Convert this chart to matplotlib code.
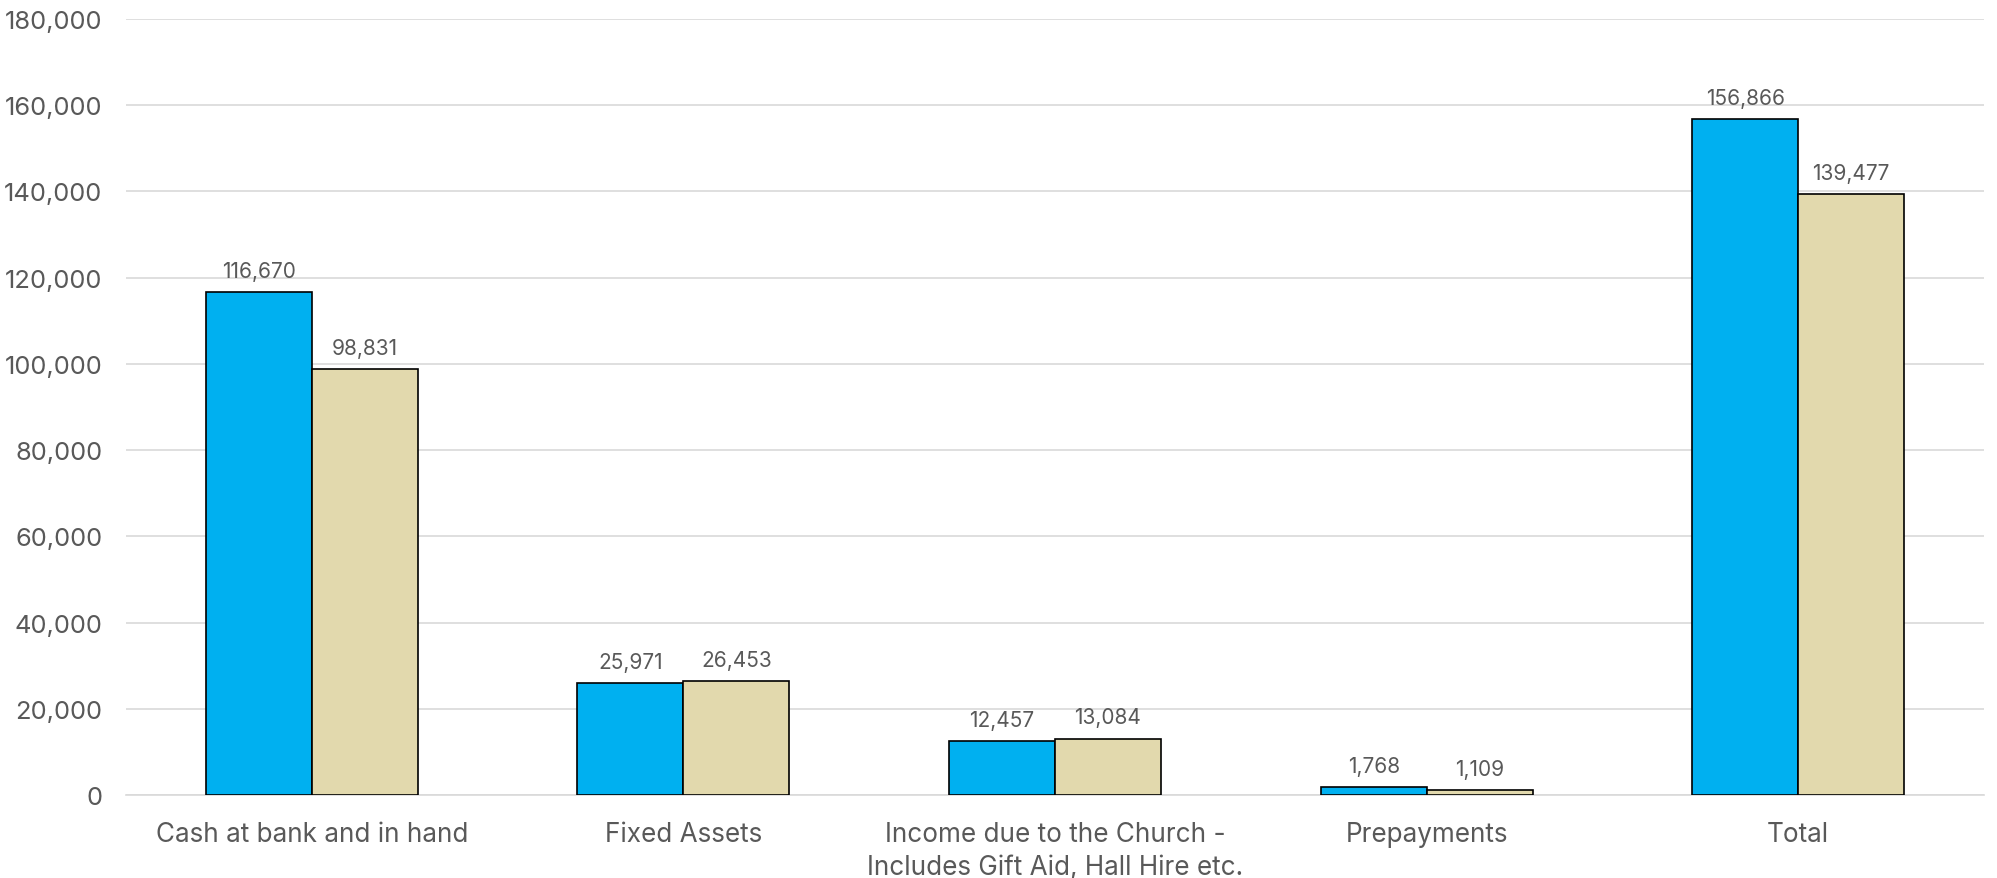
import numpy as np
import matplotlib.pyplot as plt
from matplotlib.ticker import FuncFormatter

plt.rcParams['font.family'] = ['Inter', 'DejaVu Sans']

categories = ['Cash at bank and in hand', 'Fixed Assets',
              'Income due to the Church -\nIncludes Gift Aid, Hall Hire etc.',
              'Prepayments', 'Total']
series_a = [116670, 25971, 12457, 1768, 156866]
series_b = [98831, 26453, 13084, 1109, 139477]

grey = '#595959'
fig = plt.figure(figsize=(19.97, 8.79), dpi=100)
ax = fig.add_axes([126 / 1997, 1 - 796 / 879, (1984 - 126) / 1997, (796 - 20) / 879])

x = np.arange(len(categories))
w = 0.285
b1 = ax.bar(x - w / 2, series_a, w, color='#00B0F0', edgecolor='black', linewidth=1.2, zorder=3)
b2 = ax.bar(x + w / 2, series_b, w, color='#E2D9AD', edgecolor='black', linewidth=1.2, zorder=3)

for bars in (b1, b2):
    for bar in bars:
        h = bar.get_height()
        ax.annotate(f'{h:,.0f}', (bar.get_x() + bar.get_width() / 2, h),
                    xytext=(0, 8), textcoords='offset points',
                    ha='center', va='bottom', fontsize=15, color=grey)

ax.set_xlim(-0.5, len(categories) - 0.5)
ax.set_ylim(0, 180000)
ax.set_yticks(np.arange(0, 180001, 20000))
ax.yaxis.set_major_formatter(FuncFormatter(lambda v, p: f'{v:,.0f}'))
ax.set_xticks(x)
ax.set_xticklabels(categories, fontsize=18.8, color=grey, linespacing=1.35)
ax.tick_params(axis='y', labelsize=18.4, labelcolor=grey, length=0, pad=17)
ax.tick_params(axis='x', length=0, pad=19)

ax.grid(axis='y', color='#D9D9D9', linewidth=1.2, zorder=0)
for s in ['top', 'right', 'left']:
    ax.spines[s].set_visible(False)
ax.spines['bottom'].set_color('#D9D9D9')
ax.spines['bottom'].set_linewidth(1.2)

fig.savefig('out.png', dpi=100)
